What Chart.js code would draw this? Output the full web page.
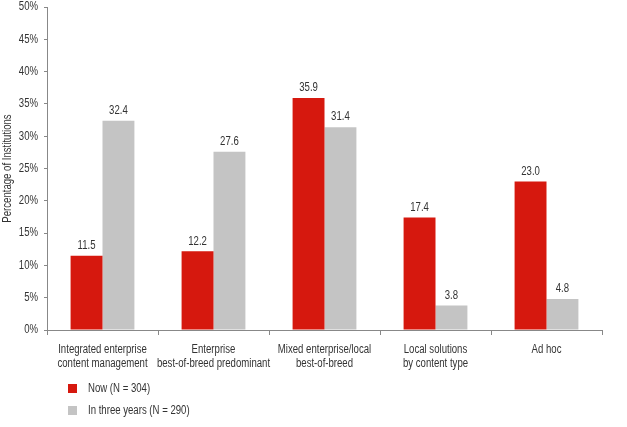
<!DOCTYPE html>
<html>
<head>
<meta charset="utf-8">
<script src="https://cdn.jsdelivr.net/npm/chart.js@4"></script>
<style>
  html, body { margin: 0; padding: 0; background: #fff; }
  #wrap { width: 627px; height: 427px; }
</style>
</head>
<body>
<div id="wrap"><canvas id="myChart"></canvas></div>
<script>
const categorias = [
  ['Integrated enterprise', 'content management'],
  ['Enterprise', 'best-of-breed predominant'],
  ['Mixed enterprise/local', 'best-of-breed'],
  ['Local solutions', 'by content type'],
  ['Ad hoc']
]
const agora = [11.5, 12.2, 35.9, 17.4, 23.0]
const tresAnos = [32.4, 27.6, 31.4, 3.8, 4.8]
const rotulos = ['Now (N = 304)', 'In three years (N = 290)']
const fonte = '"Liberation Sans", Arial, sans-serif'
const estreito = 0.8 // aperta o texto na horizontal (imita Arial Narrow)

function texto(c, t, x, y, align, size) {
  c.save()
  c.font = size + 'px ' + fonte
  c.textAlign = align
  c.textBaseline = 'middle'
  c.translate(x, y)
  c.scale(estreito, 1)
  c.fillText(t, 0, 0)
  c.restore()
}

// textos: ticks, titulo, valores e legenda
const textosPlugin = {
  id: 'textos',
  afterDraw(chart) {
    const c = chart.ctx
    const sx = chart.scales.x
    const sy = chart.scales.y
    c.save()
    c.fillStyle = '#333'
    sy.ticks.forEach((t) => {
      texto(c, t.value + '%', sy.right - 9, sy.getPixelForValue(t.value), 'right', 12)
    })
    categorias.forEach((cat, i) => {
      const x = sx.getPixelForTick(i)
      cat.forEach((linha, k) => {
        texto(c, linha, x, sx.top + 20 + k * 14, 'center', 12)
      })
    })
    chart.data.datasets.forEach((ds, i) => {
      chart.getDatasetMeta(i).data.forEach((bar, j) => {
        texto(c, ds.data[j].toFixed(1), bar.x, bar.y - 10, 'center', 12)
      })
    })
    // titulo do eixo y
    c.save()
    c.translate(8, (sy.top + sy.bottom) / 2)
    c.rotate(-Math.PI / 2)
    c.scale(estreito, 1)
    c.font = '12px ' + fonte
    c.textAlign = 'center'
    c.textBaseline = 'middle'
    c.fillText('Percentage of Institutions', 0, 0)
    c.restore()
    // legenda
    chart.data.datasets.forEach((ds, i) => {
      const y = 389 + i * 22
      c.fillStyle = ds.backgroundColor
      c.fillRect(68, y - 5, 9, 9)
      c.fillStyle = '#333'
      texto(c, ds.label, 88, y, 'left', 12)
    })
    c.restore()
  }
}

new Chart(document.getElementById('myChart'), {
  type: 'bar',
  data: {
    labels: categorias,
    datasets: [
      { label: rotulos[0], data: agora, backgroundColor: 'rgb(214, 24, 14)' },
      { label: rotulos[1], data: tresAnos, backgroundColor: 'rgb(196, 196, 196)' }
    ]
  },
  options: {
    responsive: true,
    maintainAspectRatio: false,
    animation: false,
    layout: { padding: { left: 0, right: 25, top: 7, bottom: 0 } },
    datasets: { bar: { barPercentage: 1, categoryPercentage: 0.575 } },
    plugins: { legend: { display: false }, tooltip: { enabled: false } },
    scales: {
      x: {
        grid: { drawOnChartArea: false, tickLength: 5, color: '#888' },
        border: { color: '#888' },
        ticks: { display: false },
        afterFit: (s) => { s.height = 97 }
      },
      y: {
        min: 0,
        max: 50,
        grid: { drawOnChartArea: false, tickLength: 3, color: '#888' },
        border: { color: '#888' },
        ticks: { display: false, stepSize: 5 },
        afterFit: (s) => { s.width = 47 }
      }
    }
  },
  plugins: [textosPlugin]
})
</script>
</body>
</html>
